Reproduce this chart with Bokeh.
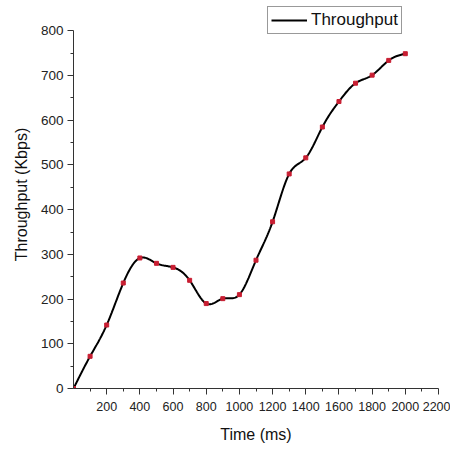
import numpy as np
from bokeh.plotting import figure
from bokeh.models import FixedTicker, Legend, LegendItem, Range1d
from bokeh.embed import file_html
from bokeh.resources import INLINE

# Data
time_ms = [0, 100, 200, 300, 400, 500, 600, 700, 800, 900, 1000,
           1100, 1200, 1300, 1400, 1500, 1600, 1700, 1800, 1900, 2000]
throughput = [0, 72, 142, 236, 292, 280, 271, 242, 190, 201, 210,
              287, 373, 480, 516, 585, 642, 683, 701, 734, 749]
x_ticks = [200, 400, 600, 800, 1000, 1200, 1400, 1600, 1800, 2000, 2200]
y_ticks = [0, 100, 200, 300, 400, 500, 600, 700, 800]


def natural_spline(x, y, n_per=20):
    x = np.asarray(x, float)
    y = np.asarray(y, float)
    n = len(x)
    h = np.diff(x)
    A = np.zeros((n, n))
    b = np.zeros(n)
    A[0, 0] = 1
    A[-1, -1] = 1
    for i in range(1, n - 1):
        A[i, i - 1] = h[i - 1]
        A[i, i] = 2 * (h[i - 1] + h[i])
        A[i, i + 1] = h[i]
        b[i] = 6 * ((y[i + 1] - y[i]) / h[i] - (y[i] - y[i - 1]) / h[i - 1])
    M = np.linalg.solve(A, b)
    xs, ys = [], []
    for i in range(n - 1):
        t = np.linspace(x[i], x[i + 1], n_per, endpoint=False)
        a = x[i + 1] - t
        c = t - x[i]
        s = (M[i] * a ** 3 + M[i + 1] * c ** 3) / (6 * h[i]) \
            + (y[i] / h[i] - M[i] * h[i] / 6) * a \
            + (y[i + 1] / h[i] - M[i + 1] * h[i] / 6) * c
        xs.extend(t)
        ys.extend(s)
    xs.append(x[-1])
    ys.append(y[-1])
    return xs, ys


sx, sy = natural_spline(time_ms, throughput)

# y range extends above 800 so the legend can sit above the axis top
p = figure(width=450, height=445, output_backend="svg", toolbar_location=None,
           x_range=Range1d(0, 2200), y_range=Range1d(0, 868),
           min_border_left=73, min_border_right=12, min_border_top=0,
           min_border_bottom=53)
p.outline_line_color = None
p.grid.visible = False

line = p.line(sx, sy, line_color="black", line_width=2)
pts = p.scatter(time_ms, throughput, marker="square", size=4,
                fill_color="#c81e32", line_color="#c81e32")

axis_color = "#333333"
font = "Liberation Sans"

p.xaxis.ticker = FixedTicker(ticks=x_ticks, minor_ticks=list(range(100, 2200, 200)))
p.yaxis.ticker = FixedTicker(ticks=y_ticks, minor_ticks=list(range(50, 800, 100)))
p.yaxis.bounds = (0, 800)
for ax in (p.xaxis[0], p.yaxis[0]):
    ax.axis_line_color = axis_color
    ax.major_tick_line_color = axis_color
    ax.minor_tick_line_color = axis_color
    ax.major_tick_in = 0
    ax.major_tick_out = 6
    ax.minor_tick_in = 0
    ax.minor_tick_out = 3
    ax.major_label_text_font = font
    ax.major_label_text_font_size = "12.5px"
    ax.major_label_text_color = "#222222"
    ax.axis_label_text_font = font
    ax.axis_label_text_font_size = "16px"
    ax.axis_label_text_font_style = "normal"
    ax.axis_label_text_color = "#111111"
p.yaxis.major_label_text_font_size = "13.5px"

p.xaxis.axis_label = "Time (ms)"
p.yaxis.axis_label = "Throughput (Kbps)"
p.xaxis.major_label_standoff = 7
p.xaxis.axis_label_standoff = 12
p.yaxis.major_label_standoff = 4
p.yaxis.axis_label_standoff = 8

legend = Legend(items=[LegendItem(label="Throughput", renderers=[line])],
                location=(194, 354), orientation="vertical")
legend.border_line_color = "#333333"
legend.border_line_width = 1
legend.background_fill_alpha = 1
legend.label_text_font = font
legend.label_text_font_size = "17px"
legend.label_text_color = "#111111"
legend.glyph_width = 36
legend.glyph_height = 16
legend.label_standoff = 4
legend.padding = 3
legend.spacing = 0
legend.margin = 0
legend.label_height = 16
p.add_layout(legend)

open("out.html", "w").write(file_html(p, INLINE))
